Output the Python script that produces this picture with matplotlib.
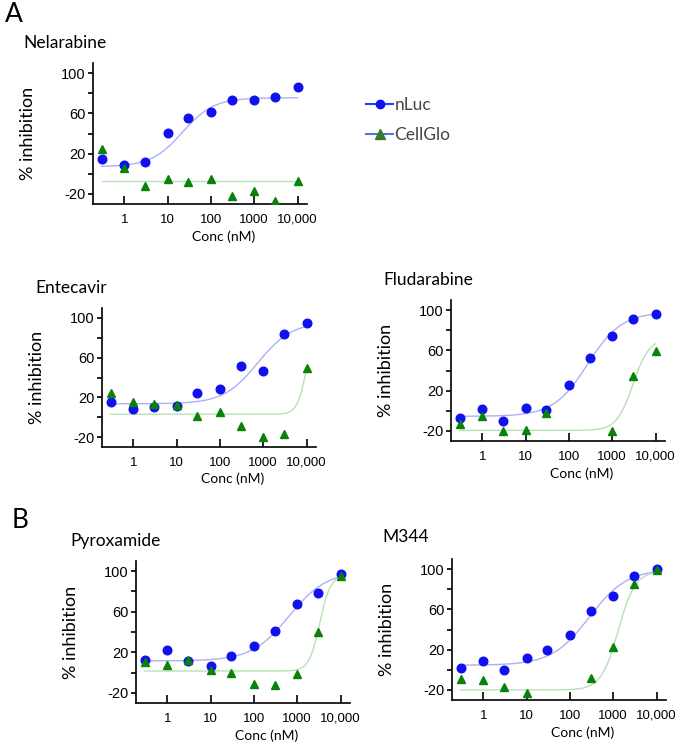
import numpy as np
import matplotlib
matplotlib.use("Agg")
import matplotlib.pyplot as plt
from matplotlib.lines import Line2D
from matplotlib.ticker import FixedLocator, NullLocator

# concentrations (nM), half-log dilution series
conc = [0.3, 1, 3, 10, 30, 100, 300, 1000, 3000, 10000]
nan = np.nan

drugs = ["Nelarabine", "Entecavir", "Fludarabine", "Pyroxamide", "M344"]

# % inhibition
nluc_nelarabine = [14.5, 8.3, 11.6, 40.2, 55.0, 61.5, 73.0, 73.0, 76.0, 86.0]
cell_nelarabine = [24.7, 5.7, -12.4, -5.2, -8.2, -4.9, -21.6, -16.7, -26.6, -7.5]
nluc_entecavir = [14.9, 7.9, 9.9, 11.6, 24.2, 28.2, 51.5, 46.8, 83.4, 95.0]
cell_entecavir = [24.5, 15.6, 12.9, 12.2, 1.3, 4.9, -8.4, -19.7, -16.7, 49.1]
nluc_fludarabine = [-6.8, 1.5, -9.8, 2.5, 1.2, 25.6, 52.1, 73.9, 91.1, 95.7]
cell_fludarabine = [-13.0, -4.8, -20.0, -18.7, -2.1, nan, nan, -20.0, 34.5, 59.3]
nluc_pyroxamide = [12.0, 22.5, 11.7, 6.1, 16.3, 26.1, 41.1, 67.6, 78.7, 97.0]
cell_pyroxamide = [10.0, 7.7, 12.5, 2.6, -0.7, -11.5, -12.5, -1.0, 40.0, 95.0]
nluc_m344 = [1.7, 8.7, -0.2, 11.6, 19.9, 34.7, 58.5, 73.3, 92.7, 100.0]
cell_m344 = [-9.5, -9.8, -16.7, -22.6, nan, nan, -8.5, 22.2, 85.5, 99.3]

# 4-parameter logistic fits: bottom, top, IC50 (nM), hill
fit_nluc = [
    [7.0, 75.5, 22, 1.2],
    [13.5, 96.0, 750, 1.1],
    [-5.5, 98.0, 270, 1.1],
    [11.5, 100.0, 650, 1.0],
    [4.5, 100.0, 280, 1.0],
]
fit_cell = [
    [-7.0, -7.0, 100, 1.0],
    [3.0, 95.0, 10000, 4.0],
    [-19.5, 72.0, 3000, 2.3],
    [1.5, 96.0, 3300, 3.5],
    [-20.0, 98.0, 1300, 2.2],
]

nluc_data = [nluc_nelarabine, nluc_entecavir, nluc_fludarabine, nluc_pyroxamide, nluc_m344]
cell_data = [cell_nelarabine, cell_entecavir, cell_fludarabine, cell_pyroxamide, cell_m344]

xticks = [1, 10, 100, 1000, 10000]
xticklabels = ["1", "10", "100", "1000", "10,000"]

# axes boxes in pixels (left, top-of-spine, bottom-of-spine) on a 680x744 canvas
W, H = 680, 744
boxes = [(93, 63, 204), (102, 308, 447), (451, 300, 441), (136, 561, 703), (452, 559, 700)]
title_pos = [(23, 43), (35, 288), (383, 280), (70, 541), (382, 537)]
AX_W = 214

blue = "#1010f0"
green = "#0a820a"
title_font = "Lato"
tick_font = "Liberation Sans"


def logistic(x, p):
    bottom, top, ic50, hill = p
    return bottom + (top - bottom) / (1 + (ic50 / x) ** hill)


fig = plt.figure(figsize=(W / 100, H / 100), dpi=100)
xs = np.logspace(np.log10(0.3), 4, 300)

for i, name in enumerate(drugs):
    left, top, bottom = boxes[i]
    ax = fig.add_axes([left / W, (H - bottom) / H, AX_W / W, (bottom - top) / H])
    ax.plot(xs, logistic(xs, fit_nluc[i]), color="#aeb0f5", lw=1.0, zorder=1)
    ax.plot(xs, logistic(xs, fit_cell[i]), color="#b5e2b5", lw=1.0, zorder=1)
    ax.plot(conc, nluc_data[i], "o", color=blue, ms=6.2, mec=blue, zorder=3)
    ax.plot(conc, cell_data[i], "^", color=green, ms=6.4, mec=green, zorder=3)
    ax.set_xscale("log")
    ax.set_xlim(0.19, 16500)
    ax.set_ylim(-30, 110)
    for s in ["top", "right"]:
        ax.spines[s].set_visible(False)
    for s in ["left", "bottom"]:
        ax.spines[s].set_linewidth(1.2)
    ax.xaxis.set_major_locator(FixedLocator(xticks))
    ax.xaxis.set_minor_locator(NullLocator())
    ax.set_xticklabels(xticklabels, fontfamily=tick_font, fontsize=9.5)
    ax.yaxis.set_major_locator(FixedLocator([-20, 20, 60, 100]))
    ax.yaxis.set_minor_locator(FixedLocator([0, 40, 80]))
    ax.set_yticklabels(["-20", "20", "60", "100"], fontfamily=tick_font, fontsize=10.5)
    ax.tick_params(axis="x", which="both", direction="in", length=6, width=1.2, pad=7)
    ax.tick_params(axis="y", which="both", direction="out", length=3.5, width=1.2, pad=2)
    ax.set_ylabel("% inhibition", fontfamily=title_font, fontsize=13)
    ax.yaxis.set_label_coords(-0.265, 0.5)
    ax.set_xlabel("Conc (nM)", fontfamily=title_font, fontsize=10)
    ax.xaxis.set_label_coords(0.61, -0.185)
    tx, ty = title_pos[i]
    fig.text(tx / W, 1 - ty / H, name, fontfamily=title_font, fontsize=12.5, va="center", ha="left")

fig.text(5 / W, 1 - 14 / H, "A", fontfamily=title_font, fontsize=19, va="center", ha="left")
fig.text(12 / W, 1 - 520 / H, "B", fontfamily=title_font, fontsize=19, va="center", ha="left")

handles = [
    Line2D([], [], color="#2040ff", lw=1.5, marker="o", ms=6, mfc=blue, mec=blue),
    Line2D([], [], color="#4a78d8", lw=1.5, marker="^", ms=6.5, mfc="#3a7a2a", mec="#3a7a2a"),
]
fig.legend(handles, ["nLuc", "CellGlo"], loc="upper left", bbox_to_anchor=(357 / W, 1 - 88 / H),
           frameon=False, handlelength=1.6, handletextpad=0.05, labelspacing=0.85,
           prop={"family": title_font, "size": 12.5}, labelcolor="#444444", borderpad=0)

fig.savefig("out.png", dpi=100)
